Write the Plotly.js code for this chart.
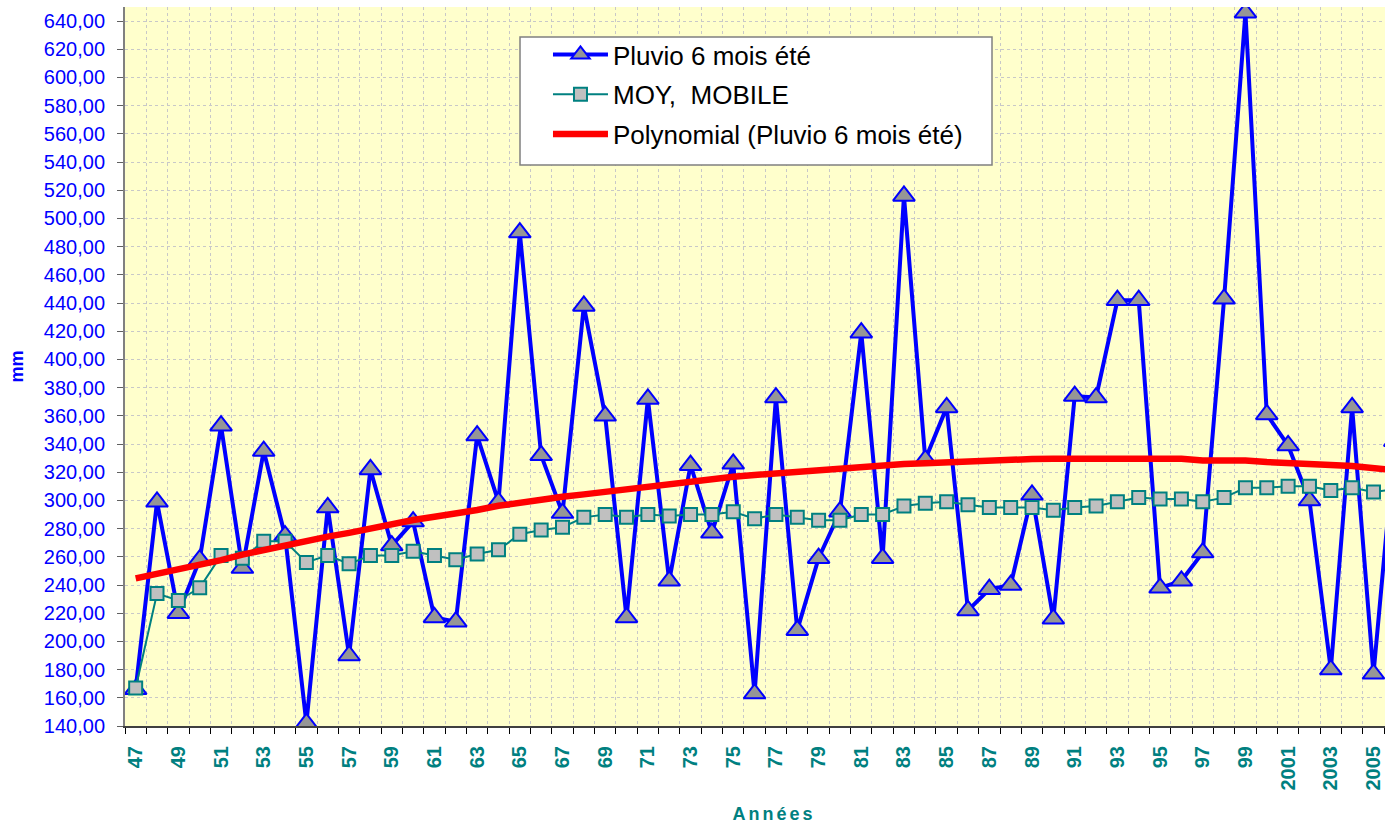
<!DOCTYPE html>
<html>
<head>
<meta charset="utf-8">
<script src="https://cdn.plot.ly/plotly-3.0.1.min.js"></script>
<style>
  html, body { margin: 0; padding: 0; background: #ffffff; }
  #chart { width: 1385px; height: 830px; }
</style>
</head>
<body>
<div id="chart"></div>
<script>
// Years (categories)
var years = [1947,1948,1949,1950,1951,1952,1953,1954,1955,1956,1957,1958,1959,1960,
  1961,1962,1963,1964,1965,1966,1967,1968,1969,1970,1971,1972,1973,1974,1975,1976,
  1977,1978,1979,1980,1981,1982,1983,1984,1985,1986,1987,1988,1989,1990,1991,1992,
  1993,1994,1995,1996,1997,1998,1999,2000,2001,2002,2003,2004,2005,2006];

// Pluvio 6 mois été (mm)
var pluvio = [166,299,220,258,353,252,335,275,142,295,190,322,268,285,217,214,
  346,299,490,332,291,438,360,217,372,243,325,277,326,163,373,208,259,292,419,259,
  516,329,366,222,237,240,304,216,374,373,442,442,238,243,263,443,646,361,339,300,
  180,366,177,342];

// MOY, MOBILE
var moyMobile = [167,234,229,238,261,259,271,271,256,261,255,261,261,264,261,258,
  262,265,276,279,281,288,290,288,290,289,290,290,292,287,290,288,286,286,290,290,296,
  298,299,297,295,295,295,293,295,296,299,302,301,301,299,302,309,309,310,310,307,
  309,306,308];

// Polynomial (Pluvio 6 mois été) – trend line
var polynomial = [244.7,247.8,250.6,253.7,257.7,261.6,264.8,268.4,271.9,274.3,277,
  280.2,283.3,286.1,288.4,290.4,
  293.2,296.2,298.6,301,302.6,304.3,306.2,308.1,310.2,312.1,313.8,315.2,316.8,318,
  319.2,320.9,322,322.8,323.9,325.1,325.8,
  326.3,327,328.2,328.7,328.7,329.4,329.6,329.6,329.6,329.6,329.6,329.6,329.6,
  328.4,328.4,328.4,327.2,326.8,325.6,325.1,324.4,322.8,321.5];

// Tick labels
var tickYears = [1947,1949,1951,1953,1955,1957,1959,1961,1963,1965,1967,1969,1971,
  1973,1975,1977,1979,1981,1983,1985,1987,1989,1991,1993,1995,1997,1999,2001,2003,2005];
var tickLabels = ["47","49","51","53","55","57","59","61","63","65","67","69","71",
  "73","75","77","79","81","83","85","87","89","91","93","95","97","99","2001","2003","2005"];

var FONT = 'Arial, "Liberation Sans", sans-serif';

var traces = [
  {
    x: years, y: pluvio, type: 'scatter', mode: 'lines+markers',
    name: 'Pluvio 6 mois été', legendgroup: 'a',
    line: {color: '#0000FF', width: 4},
    marker: {symbol: 'triangle-up', size: 19, color: '#969696',
             line: {color: '#0000FF', width: 2}}
  },
  {
    x: years, y: moyMobile, type: 'scatter', mode: 'lines+markers',
    name: 'MOY,  MOBILE', legendgroup: 'b',
    line: {color: '#008080', width: 2},
    marker: {symbol: 'square', size: 13, color: '#C0C0C0',
             line: {color: '#008080', width: 2}}
  },
  {
    x: years, y: polynomial, type: 'scatter', mode: 'lines',
    name: 'Polynomial (Pluvio 6 mois été)', legendgroup: 'c',
    line: {color: '#FF0000', width: 6.5}
  }
];

var layout = {
  width: 1385, height: 830,
  margin: {l: 125, r: 0, t: 7, b: 104},
  paper_bgcolor: '#FFFFFF',
  plot_bgcolor: '#FFFFCC',
  separators: ', ',
  font: {family: FONT, color: '#000000'},
  showlegend: true,
  legend: {
    x: 0.3357, y: 0.9666, xanchor: 'left', yanchor: 'top',
    bgcolor: 'rgba(0,0,0,0)', borderwidth: 0,
    font: {family: FONT, size: 26, color: '#000000'},
    itemwidth: 55, traceorder: 'grouped', tracegroupgap: 3
  },
  shapes: [{
    type: 'rect', xref: 'paper', yref: 'paper', layer: 'above',
    x0: 0.3135, x1: 0.6881, y0: 0.7803, y1: 0.9583,
    fillcolor: '#FFFFFF', line: {color: '#808080', width: 1.5}
  }],
  xaxis: {
    type: 'linear',
    range: [1946.5, 2005.54],
    tickmode: 'array', tickvals: tickYears, ticktext: tickLabels,
    tickangle: -90,
    ticks: '', showgrid: false, zeroline: false,
    tickfont: {family: FONT, size: 20, color: '#008080', weight: 'bold'},
    ticklabelstandoff: 10,
    showline: true, linecolor: '#404040', linewidth: 2,
    minor: {tickmode: 'linear', tick0: 1946.5, dtick: 1, ticks: 'outside', ticklen: 6,
            tickcolor: '#000000', tickwidth: 1, showgrid: true,
            gridcolor: '#C8C8C8', griddash: 'dot', gridwidth: 1},
    title: {text: 'Années', font: {family: FONT, size: 18, color: '#008080', weight: 'bold'},
            standoff: 18},
    fixedrange: true
  },
  yaxis: {
    range: [140, 650],
    tick0: 140, dtick: 20, tickmode: 'linear',
    tickformat: '.2f',
    ticks: 'outside', ticklen: 6, tickcolor: '#606060', tickwidth: 1,
    ticklabelstandoff: 8,
    tickfont: {family: FONT, size: 20, color: '#0000FF'},
    showgrid: true, gridcolor: '#C8C8C8', griddash: 'dot', gridwidth: 1,
    zeroline: false,
    showline: true, linecolor: '#808080', linewidth: 2,
    title: {text: 'mm', font: {family: FONT, size: 18, color: '#0000FF', weight: 'bold'},
            standoff: 16},
    fixedrange: true
  }
};

Plotly.newPlot('chart', traces, layout, {displayModeBar: false, staticPlot: true}).then(function () {
  document.querySelectorAll('.xtitle').forEach(function (el) {
    el.style.letterSpacing = '3px';
    if (!el.getAttribute('transform')) el.setAttribute('transform', 'translate(19,0)');
  });
});
</script>
</body>
</html>
